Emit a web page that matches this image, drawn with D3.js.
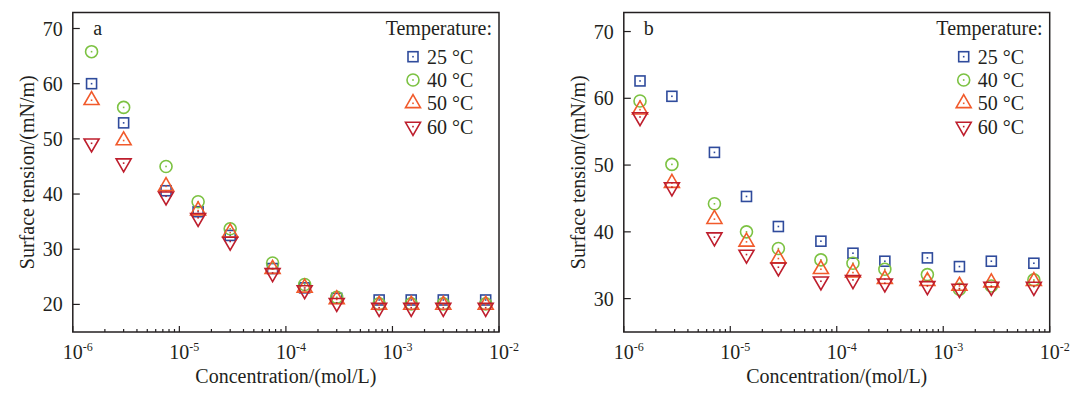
<!DOCTYPE html>
<html>
<head>
<meta charset="utf-8">
<script src="https://cdn.jsdelivr.net/npm/d3@7"></script>
<style>
  body { margin: 0; background: #fff; }
  text { font-family: "Liberation Serif", "Times New Roman", serif; fill: #231f20; }
</style>
</head>
<body>
<div id="chart"></div>
<script>
const width = 1081;
const height = 396;

// temperatures shown in the legend
const temperatures = ["25 °C", "40 °C", "50 °C", "60 °C"];
const xTickExps = [-6, -5, -4, -3, -2];

// panel a
const concA = [1.5e-6, 3e-6, 7.5e-6, 1.5e-5, 3e-5, 7.5e-5, 1.5e-4, 3e-4, 7.5e-4, 1.5e-3, 3e-3, 7.5e-3];
const a25 = [60.0, 52.9, 40.6, 36.8, 32.5, 26.5, 23.0, 21.1, 20.8, 20.8, 20.8, 20.8];
const a40 = [65.8, 55.7, 45.0, 38.6, 33.7, 27.5, 23.6, 21.3, 20.1, 20.1, 20.1, 20.1];
const a50 = [57.0, 49.7, 41.4, 37.0, 33.0, 26.4, 23.0, 20.9, 19.9, 19.9, 19.9, 19.9];
const a60 = [49.2, 45.6, 39.6, 35.7, 31.4, 25.7, 22.6, 20.3, 19.4, 19.4, 19.4, 19.4];
const yTicksA = [20, 30, 40, 50, 60, 70];

// panel b
const concB = [1.42e-6, 2.83e-6, 7.1e-6, 1.42e-5, 2.83e-5, 7.1e-5, 1.42e-4, 2.83e-4, 7.1e-4, 1.42e-3, 2.83e-3, 7.1e-3];
const b25 = [62.6, 60.3, 51.9, 45.3, 40.8, 38.6, 36.8, 35.6, 36.1, 34.8, 35.6, 35.3];
const b40 = [59.6, 50.1, 44.2, 40.0, 37.5, 35.8, 35.3, 34.4, 33.6, 31.4, 31.9, 32.8];
const b50 = [58.3, 47.3, 41.9, 38.5, 36.0, 34.4, 33.9, 32.9, 32.6, 31.9, 32.4, 32.6];
const b60 = [57.2, 46.7, 39.2, 36.6, 34.7, 32.6, 32.8, 32.3, 31.9, 31.5, 31.8, 31.8];
const yTicksB = [30, 40, 50, 60, 70];

const colors = ["#2f4b9c", "#7cc242", "#f15a2b", "#be1e2d"];
const shapes = ["square", "circle", "up", "down"];

const svg = d3.select("#chart")
    .append("svg")
    .attr("width", width)
    .attr("height", height);

function marker(g, shape, color) {
    if (shape === "square") {
        g.append("rect").attr("x", -5).attr("y", -5).attr("width", 10).attr("height", 10);
    } else if (shape === "circle") {
        g.append("circle").attr("r", 6);
    } else if (shape === "up") {
        g.append("path").attr("d", "M0,-8.7L7.5,4.3L-7.5,4.3Z");
    } else {
        g.append("path").attr("d", "M-7.5,-4.3L7.5,-4.3L0,8.7Z");
    }
    g.selectAll("rect,circle,path")
        .attr("fill", "none")
        .attr("stroke", color)
        .attr("stroke-width", 1.6);
    g.append("rect")
        .attr("x", -0.8).attr("y", -0.8)
        .attr("width", 1.6).attr("height", 1.6)
        .attr("fill", color);
}

function drawPanel(opt) {
    const { left, right, top, bottom, yMin, yMax, yTicks, conc, series, label } = opt;

    const x = d3.scaleLog().domain([1e-6, 1e-2]).range([left, right]);
    const y = d3.scaleLinear().domain([yMin, yMax]).range([bottom, top]);

    const g = svg.append("g");

    // minor + major ticks on the bottom, pointing inward
    const minor = [];
    xTickExps.slice(0, -1).forEach(e => {
        for (let k = 2; k <= 9; k++) minor.push(k * Math.pow(10, e));
    });
    g.selectAll(".minor").data(minor).enter().append("line")
        .attr("x1", d => x(d)).attr("x2", d => x(d))
        .attr("y1", bottom).attr("y2", bottom - 3)
        .attr("stroke", "#231f20").attr("stroke-width", 1.2);
    g.selectAll(".major").data(xTickExps).enter().append("line")
        .attr("x1", d => x(Math.pow(10, d))).attr("x2", d => x(Math.pow(10, d)))
        .attr("y1", bottom).attr("y2", bottom - 6)
        .attr("stroke", "#231f20").attr("stroke-width", 1.2);

    // x tick labels 10^n
    xTickExps.forEach(e => {
        const px = x(Math.pow(10, e));
        g.append("text")
            .attr("x", px).attr("y", 359)
            .attr("text-anchor", "middle")
            .attr("font-size", 20)
            .text("10");
        g.append("text")
            .attr("x", px + 10).attr("y", 351)
            .attr("font-size", 12)
            .text(String(e));
    });

    // y ticks, inward
    g.selectAll(".ytick").data(yTicks).enter().append("line")
        .attr("x1", left).attr("x2", left + 7)
        .attr("y1", d => y(d)).attr("y2", d => y(d))
        .attr("stroke", "#231f20").attr("stroke-width", 1.2);
    g.selectAll(".ylab").data(yTicks).enter().append("text")
        .attr("x", left - 10).attr("y", d => y(d))
        .attr("dy", "0.35em")
        .attr("text-anchor", "end")
        .attr("font-size", 20)
        .text(d => d);

    // frame
    g.append("rect")
        .attr("x", left).attr("y", top)
        .attr("width", right - left).attr("height", bottom - top)
        .attr("fill", "none").attr("stroke", "#231f20").attr("stroke-width", 1.5);

    // axis titles
    g.append("text")
        .attr("x", (left + right) / 2).attr("y", 383)
        .attr("text-anchor", "middle")
        .attr("font-size", 20)
        .text("Concentration/(mol/L)");
    g.append("text")
        .attr("transform", `translate(${left - 39},${(top + bottom) / 2}) rotate(-90)`)
        .attr("text-anchor", "middle")
        .attr("font-size", 20)
        .text("Surface tension/(mN/m)");

    // panel letter
    g.append("text")
        .attr("x", left + 25).attr("y", 35)
        .attr("text-anchor", "middle")
        .attr("font-size", 20)
        .text(label);

    // points
    series.forEach((vals, i) => {
        g.append("g").selectAll("g").data(vals).enter().append("g")
            .attr("transform", (d, j) => `translate(${x(conc[j])},${y(d)})`)
            .each(function () { marker(d3.select(this), shapes[i], colors[i]); });
    });

    // legend
    g.append("text")
        .attr("x", right - 7).attr("y", 35)
        .attr("text-anchor", "end")
        .attr("font-size", 20)
        .text("Temperature:");
    temperatures.forEach((t, i) => {
        const ly = 56.7 + i * 23.3;
        const lg = g.append("g").attr("transform", `translate(${right - 86},${ly})`);
        marker(lg, shapes[i], colors[i]);
        g.append("text")
            .attr("x", right - 72).attr("y", ly)
            .attr("dy", "0.35em")
            .attr("font-size", 20)
            .text(t);
    });
}

drawPanel({
    left: 72.8, right: 499, top: 12.5, bottom: 332,
    yMin: 15, yMax: 72.9, yTicks: yTicksA,
    conc: concA, series: [a25, a40, a50, a60], label: "a"
});

drawPanel({
    left: 623.8, right: 1049.7, top: 12.5, bottom: 332,
    yMin: 25, yMax: 72.85, yTicks: yTicksB,
    conc: concB, series: [b25, b40, b50, b60], label: "b"
});
</script>
</body>
</html>
